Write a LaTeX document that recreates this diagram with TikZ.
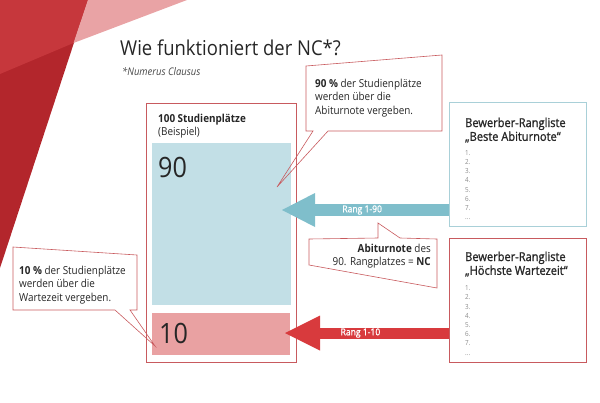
\documentclass[tikz,border=0pt]{standalone}
\usepackage{fontspec}
\setmainfont{Open Sans}[FakeStretch=0.9]
\newfontfamily\semibold{Open Sans}[FakeStretch=0.9, FakeBold=1.2]
\usetikzlibrary{arrows.meta}

\definecolor{darkred}{HTML}{B3262C}
\definecolor{midred}{HTML}{C6373C}
\definecolor{palered}{HTML}{E9A3A5}
\definecolor{framered}{HTML}{C85A5E}
\definecolor{seafill}{HTML}{C2DFE6}
\definecolor{rosefill}{HTML}{E9A1A2}
\definecolor{seaarrow}{HTML}{7FBECB}
\definecolor{redarrow}{HTML}{D83A3D}
\definecolor{seaframe}{HTML}{A9D0D8}
\definecolor{inkgray}{HTML}{262626}
\definecolor{listgray}{HTML}{8C8C8C}

\tikzset{
  redframe/.style = {draw=framered, line width=0.6pt},
  seaframed/.style = {draw=seaframe, line width=0.6pt},
  plain/.style = {inner sep=0pt, font=\fontsize{11}{13.6}\selectfont},
  listtitle/.style = {inner sep=0pt, anchor=north west, align=left, font=\semibold\fontsize{12.3}{13.8}\selectfont},
  listitems/.style = {inner sep=0pt, anchor=north west, align=left, text=listgray, font=\fontsize{7}{9.2}\selectfont},
  arrowlabel/.style = {text=white, font=\semibold\fontsize{9.5}{10}\selectfont}
}

\begin{document}
\begin{tikzpicture}[x=1pt, y=-1pt, text=inkgray]
\useasboundingbox (0,0) rectangle (600,402);

% background corner
\fill[darkred] (0,0) -- (88,0) -- (0,268) -- cycle;
\fill[midred] (0,0) -- (88,0) -- (73.5,43) -- (0,74) -- cycle;
\fill[palered] (88,0) -- (187,0) -- (73.5,43) -- cycle;

% title
\node[anchor=base west, inner sep=0pt, font=\fontsize{20.5}{25}\selectfont] (title) at (120,55) {Wie funktioniert der NC*?};
\node[anchor=base west, inner sep=0pt, text=inkgray!85, font=\itshape\fontsize{10.5}{12}\selectfont] (subtitle) at (122,75) {*Numerus Clausus};

% study places
\node[redframe, anchor=north west, minimum width=150pt, minimum height=259pt, inner sep=0pt] (places) at (146,103) {};
\node[plain, anchor=base west, font=\bfseries\fontsize{11}{13}\selectfont] (placestitle) at (158,122) {100 Studienplätze};
\node[plain, anchor=base west] (example) at (158,135.5) {(Beispiel)};
\node[fill=seafill, anchor=north west, minimum width=139pt, minimum height=162pt, inner sep=0pt] (abishare) at (152,143) {};
\node[fill=rosefill, anchor=north west, minimum width=138pt, minimum height=42pt, inner sep=0pt] (waitshare) at (152,313) {};
\node[anchor=base west, inner sep=0pt, font=\fontsize{28}{30}\selectfont] (abinum) at (158,177) {90};
\node[anchor=base west, inner sep=0pt, font=\fontsize{28}{30}\selectfont] (waitnum) at (159,343) {10};

% ranking lists
\node[seaframed, anchor=north west, minimum width=137pt, minimum height=124pt, inner sep=0pt] (abilist) at (449,102) {};
\node[redframe, anchor=north west, minimum width=137pt, minimum height=124pt, inner sep=0pt] (waitlist) at (449,238) {};
\node[listtitle] (abititle) at (465,117.5) {Bewerber-Rangliste\\„Beste Abiturnote“};
\node[listitems] (abiitems) at (465,150) {1.\\2.\\3.\\4.\\5.\\6.\\7.\\...};
\node[listtitle] (waittitle) at (465,251.5) {Bewerber-Rangliste\\„Höchste Wartezeit“};
\node[listitems] (waititems) at (465,285.5) {1.\\2.\\3.\\4.\\5.\\6.\\7.\\...};

% arrows
\coordinate (abitip) at (282,210);
\coordinate (waittip) at (285,333);
\draw[seaarrow, line width=12pt, -{Triangle[length=33pt, width=34pt, line width=0pt]}]
  (abilist.west |- abitip) -- (abitip) node[arrowlabel, pos=0.52] {Rang 1-90};
\draw[redarrow, line width=11pt, -{Triangle[length=35pt, width=35pt, line width=0pt]}]
  (waitlist.west |- waittip) -- (waittip) node[arrowlabel, pos=0.54] {Rang 1-10};

% callouts
\coordinate (abipoint) at (277,187);
\coordinate (waitpoint) at (155,346);
\coordinate (ncpoint) at (378,223);
\draw[redframe] (306,66) -- (442,55) -- (442,131) -- (328,131) -- (abipoint) -- (313,131) -- (306,131) -- cycle;
\node[plain, anchor=north west, align=left] (abitext) at (315,78.5)
  {\textbf{90 \%} der Studienplätze\\werden über die\\Abiturnote vergeben.};
\draw[redframe] (13,247) -- (137,255) -- (137,310) -- (130,310) -- (waitpoint) -- (115,310) -- (13,310) -- cycle;
\node[plain, anchor=north west, align=left] (waittext) at (19,265.5)
  {\textbf{10 \%} der Studienplätze\\werden über die\\Wartezeit vergeben.};
\draw[redframe] (309,239) -- (378,238) -- (ncpoint) -- (400,238) -- (437,239) -- (437,288) -- (309,265) -- cycle;
\node[plain, anchor=north east, align=right] (nctext) at (431,243.5)
  {\textbf{Abiturnote} des\\90. Rangplatzes = \textbf{NC}};
\end{tikzpicture}
\end{document}
